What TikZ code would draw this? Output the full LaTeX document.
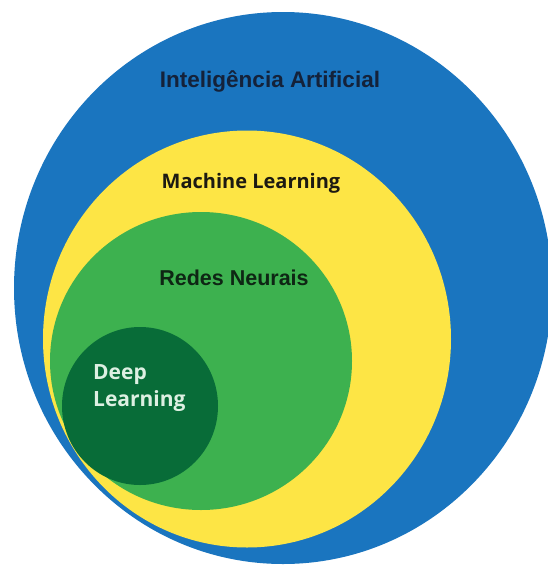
\documentclass[tikz,border=0pt]{standalone}
\usepackage{fontspec}
\setmainfont{Liberation Sans}
\newfontfamily\opensans{Open Sans}
\usetikzlibrary{shapes.geometric}
\definecolor{aiblue}{HTML}{1A75BF}
\definecolor{mlyellow}{HTML}{FDE545}
\definecolor{nngreen}{HTML}{3DB14F}
\definecolor{dlgreen}{HTML}{086C38}
\definecolor{navytxt}{HTML}{14223A}
\definecolor{mltxt}{HTML}{1C1A12}
\definecolor{nntxt}{HTML}{0E2614}
\definecolor{dltxt}{HTML}{DDF0E2}
\tikzset{
  disc/.style={ellipse, inner sep=0pt, draw=none},
  lbl/.style={inner sep=0pt, font=\bfseries},
}
\begin{document}
\begin{tikzpicture}[x=1pt,y=-1pt]
\useasboundingbox (0,0) rectangle (548,565);
\clip (0,0) rectangle (548,565);
\fill[white] (0,0) rectangle (548,565);
\node[disc, fill=aiblue, minimum width=538pt, minimum height=552pt] (ai) at (283,288) {};
\node[disc, fill=mlyellow, minimum width=408pt, minimum height=417pt] (ml) at (247,339) {};
\node[disc, fill=nngreen, minimum width=302pt, minimum height=298pt] (nn) at (201,361) {};
\node[disc, fill=dlgreen, minimum width=156pt, minimum height=158pt] (dl) at (140,406) {};
\node[lbl, text=navytxt, font=\bfseries\fontsize{22.5}{24}\selectfont] (tai) at (270,81) {Inteligência Artificial};
\node[lbl, text=mltxt, font=\opensans\bfseries\fontsize{20}{22}\selectfont] (tml) at (251,183) {Machine Learning};
\node[lbl, text=nntxt, font=\bfseries\fontsize{21.5}{23}\selectfont] (tnn) at (234,278) {Redes Neurais};
\node[lbl, text=dltxt, font=\opensans\bfseries\fontsize{21}{27}\selectfont, align=left, anchor=north west] (tdl) at (93,364) {Deep\\Learning};
\end{tikzpicture}
\end{document}
